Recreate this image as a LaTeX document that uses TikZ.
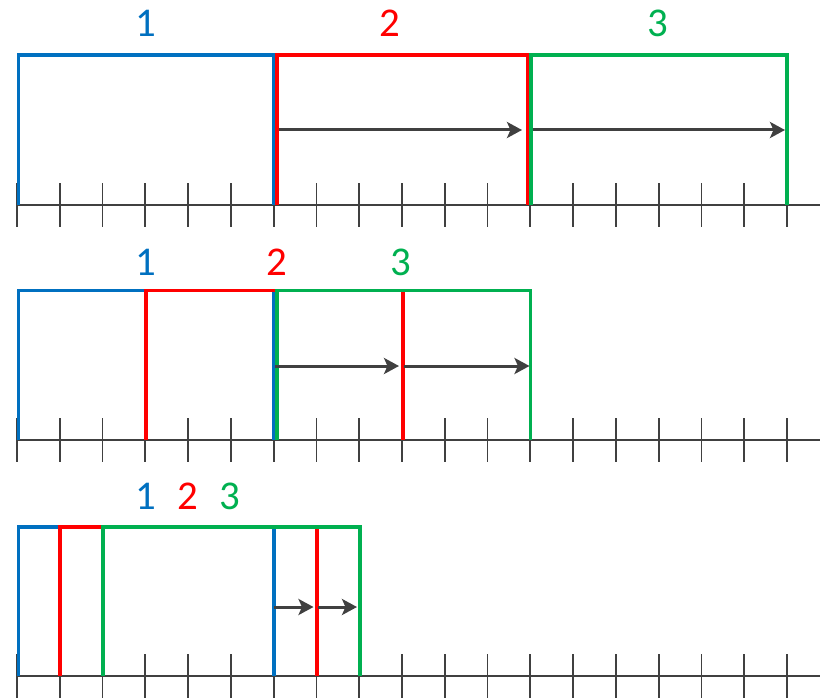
\documentclass[tikz,border=0pt]{standalone}
\usepackage{fontspec}
\setmainfont{Carlito}
\usetikzlibrary{arrows.meta}
\definecolor{winblue}{HTML}{0070C0}
\definecolor{winred}{HTML}{FF0000}
\definecolor{wingreen}{HTML}{00B050}
\definecolor{axisgray}{HTML}{404040}

\begin{document}
\begin{tikzpicture}[x=1bp,y=-1bp,
  lbl/.style={font=\fontsize{41}{48}\selectfont},
  win/.style={line width=3.2bp},
  slide/.style={axisgray,line width=3bp,-{Stealth[length=15bp,width=16bp,inset=3.5bp]}},
  axisline/.style={axisgray,line width=2.6bp},
  tickmark/.style={axisgray,line width=1.8bp}]
\useasboundingbox (0,0) rectangle (828,699);

% time axes
\foreach \ya in {205,440,676}{
  \draw[axisline] (17,\ya) -- (820,\ya);
  \foreach \i in {0,...,18}
    \draw[tickmark] ({17+42.78*\i},\ya-22) -- ({17+42.78*\i},\ya+22);
}

% row 1
\draw[win,winblue] (18.5,205) -- (18.5,55) -- (273.5,55) -- (273.5,205);
\draw[win,winred] (277,205) -- (277,55) -- (528,55) -- (528,205);
\draw[win,wingreen] (531,205) -- (531,55) -- (787,55) -- (787,205);
\node[lbl,text=winblue] (one1) at (146,23) {1};
\node[lbl,text=winred] (two1) at (390,23) {2};
\node[lbl,text=wingreen] (three1) at (658,23) {3};
\coordinate (a1) at (278.5,130);
\coordinate (b1) at (522,130);
\coordinate (c1) at (532.5,130);
\coordinate (d1) at (785,130);
\draw[slide] (a1) -- (b1);
\draw[slide] (c1) -- (d1);

% row 2
\draw[win,winblue] (18.5,440) -- (18.5,290.5) -- (273.5,290.5) -- (273.5,440);
\draw[win,winred] (146,440) -- (146,290.5) -- (403,290.5) -- (403,440);
\draw[win,wingreen] (277,440) -- (277,290.5) -- (530.5,290.5) -- (530.5,440);
\node[lbl,text=winblue] (one2) at (146,262) {1};
\node[lbl,text=winred] (two2) at (277,262) {2};
\node[lbl,text=wingreen] (three2) at (401,262) {3};
\coordinate (a2) at (275,366);
\coordinate (b2) at (399,366);
\coordinate (c2) at (404,366);
\coordinate (d2) at (529.5,366);
\draw[slide] (a2) -- (b2);
\draw[slide] (c2) -- (d2);

% row 3
\draw[win,winblue] (18.5,676) -- (18.5,527) -- (274,527) -- (274,676);
\draw[win,winred] (60,676) -- (60,527) -- (317,527) -- (317,676);
\draw[win,wingreen] (103,676) -- (103,527) -- (360,527) -- (360,676);
\node[lbl,text=winblue] (one3) at (146,496) {1};
\node[lbl,text=winred] (two3) at (188,496) {2};
\node[lbl,text=wingreen] (three3) at (230,496) {3};
\coordinate (a3) at (274,607);
\coordinate (b3) at (313.5,607);
\coordinate (c3) at (318,607);
\coordinate (d3) at (357,607);
\draw[slide] (a3) -- (b3);
\draw[slide] (c3) -- (d3);
\end{tikzpicture}
\end{document}
